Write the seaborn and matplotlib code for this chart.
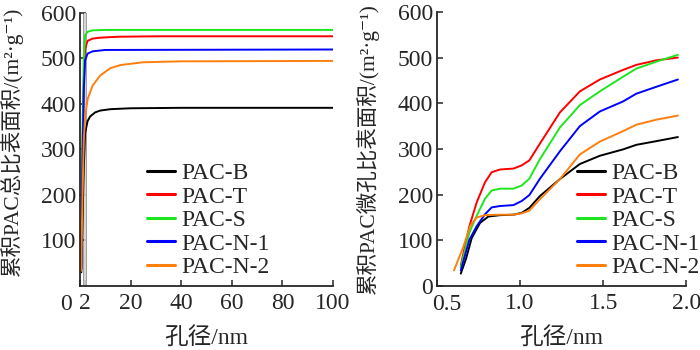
import numpy as np
import pandas as pd
import matplotlib
matplotlib.use("Agg")
import matplotlib.pyplot as plt
import seaborn as sns

samples = ["PAC-B", "PAC-T", "PAC-S", "PAC-N-1", "PAC-N-2"]
colors = ["#000000", "#ff0000", "#1ee61e", "#0000ff", "#ff7f0e"]

# left panel: cumulative total surface area vs pore size (0-100 nm)
total_x = {
    "PAC-B":   [0.5, 1, 1.5, 2, 3, 4, 6, 8, 12, 20, 40, 100],
    "PAC-T":   [0.5, 1, 1.5, 2, 3, 5, 8, 15, 30, 100],
    "PAC-S":   [0.5, 1, 1.5, 2, 3, 5, 10, 100],
    "PAC-N-1": [0.5, 1, 1.5, 2, 3, 5, 10, 100],
    "PAC-N-2": [0.4, 1, 1.5, 2, 3, 5, 8, 12, 16, 25, 40, 100],
}
total_y = {
    "PAC-B":   [30, 150, 260, 335, 362, 372, 381, 385, 388, 390, 391, 391],
    "PAC-T":   [40, 300, 450, 520, 538, 543, 545, 547, 548, 548],
    "PAC-S":   [45, 350, 500, 550, 558, 561, 562, 562],
    "PAC-N-1": [35, 280, 430, 495, 510, 515, 518, 519],
    "PAC-N-2": [33, 200, 320, 370, 410, 440, 462, 478, 485, 491, 493, 494],
}

# right panel: cumulative micropore surface area (0.5-2 nm)
micro_x = {
    "PAC-B":   [0.643, 0.675, 0.709, 0.759, 0.809, 0.88, 0.96, 1.01, 1.056, 1.12, 1.24, 1.36, 1.48, 1.62, 1.70, 1.82, 1.95],
    "PAC-T":   [0.643, 0.695, 0.739, 0.789, 0.829, 0.88, 0.96, 1.01, 1.056, 1.12, 1.24, 1.36, 1.48, 1.62, 1.70, 1.82, 1.95],
    "PAC-S":   [0.643, 0.695, 0.739, 0.789, 0.829, 0.88, 0.96, 1.01, 1.056, 1.12, 1.24, 1.36, 1.48, 1.62, 1.70, 1.82, 1.95],
    "PAC-N-1": [0.643, 0.695, 0.739, 0.789, 0.829, 0.88, 0.96, 1.01, 1.056, 1.12, 1.24, 1.36, 1.48, 1.62, 1.70, 1.82, 1.95],
    "PAC-N-2": [0.602, 0.659, 0.699, 0.739, 0.789, 0.88, 0.96, 1.01, 1.056, 1.12, 1.24, 1.36, 1.48, 1.62, 1.70, 1.82, 1.95],
}
micro_y = {
    "PAC-B":   [27, 60, 105, 138, 152, 155, 156, 160, 171, 197, 234, 267, 285, 299, 309, 317, 326],
    "PAC-T":   [45, 131, 183, 227, 249, 255, 257, 264, 275, 312, 380, 426, 452, 473, 484, 494, 500],
    "PAC-S":   [41, 117, 154, 191, 209, 213, 213, 220, 235, 278, 347, 396, 426, 458, 476, 491, 506],
    "PAC-N-1": [34, 101, 131, 157, 172, 175, 177, 186, 199, 235, 295, 350, 382, 404, 421, 436, 452],
    "PAC-N-2": [34, 86, 131, 150, 155, 156, 156, 159, 165, 190, 234, 288, 316, 339, 353, 364, 373],
}


def to_frame(xs, ys):
    rows = []
    for s in samples:
        for x, y in zip(xs[s], ys[s]):
            rows.append((s, x, y))
    return pd.DataFrame(rows, columns=["sample", "d", "area"])


sns.set_style("ticks")
plt.rcParams["font.family"] = ["Liberation Serif", "Noto Sans CJK SC", "DejaVu Serif"]
plt.rcParams["xtick.direction"] = "in"
plt.rcParams["ytick.direction"] = "in"

fig = plt.figure(figsize=(7, 3.5), dpi=100)
ax1 = fig.add_axes([0.1143, 0.183, 0.3614, 0.781])
ax2 = fig.add_axes([0.6243, 0.183, 0.356, 0.783])
palette = dict(zip(samples, colors))

sns.lineplot(data=to_frame(total_x, total_y), x="d", y="area", hue="sample",
             palette=palette, hue_order=samples, lw=1.4, ax=ax1, estimator=None, sort=False)
sns.lineplot(data=to_frame(micro_x, micro_y), x="d", y="area", hue="sample",
             palette=palette, hue_order=samples, lw=1.4, ax=ax2, estimator=None, sort=False)

# grey marker at 2 nm
ax1.axvline(1.8, color="#8a8a8a", lw=2.6, zorder=0.5)
ax1.axvline(1.8, color="#ececec", lw=1.1, zorder=0.6)

ax1.set_xlim(0, 100)
ax1.set_ylim(0, 600)
ax1.set_xticks([0, 2, 20, 40, 60, 80, 100])
ax1.set_xticklabels(["", "2", "20", "40", "60", "80", "100"])
ax1.set_yticks([100, 200, 300, 400, 500, 600])

ax2.set_xlim(0.5, 2.0)
ax2.set_ylim(0, 600)
ax2.set_xticks([0.5, 1.0, 1.5, 2.0])
ax2.set_xticklabels(["", "1.0", "1.5", "2.0"])
ax2.set_yticks([0, 100, 200, 300, 400, 500, 600])

# first x labels are nudged sideways so they clear the neighbouring label
ax1.annotate("0", xy=(0, 0), xycoords=("data", "axes fraction"), xytext=(-10, -5.5),
             textcoords="offset points", ha="center", va="top", fontsize=17)
ax2.annotate("0.5", xy=(0.5, 0), xycoords=("data", "axes fraction"), xytext=(7, -5.5),
             textcoords="offset points", ha="center", va="top", fontsize=17)

ylabels = ["累积PAC总比表面积/(m²·g⁻¹)", "累积PAC微孔比表面积/(m²·g⁻¹)"]
for ax, yl in zip([ax1, ax2], ylabels):
    sns.despine(ax=ax)
    ax.tick_params(axis="both", labelsize=17, length=4, width=1.1)
    ax.tick_params(axis="x", pad=5)
    ax.tick_params(axis="y", pad=3)
    for sp in ax.spines.values():
        sp.set_linewidth(1.3)
    ax.set_xlabel("孔径/nm", fontsize=17)
    ax.xaxis.set_label_coords(0.5, -0.152)
    ax.set_ylabel(yl, fontsize=15.5)

ax1.yaxis.set_label_coords(-0.225, 0.53)
ax2.yaxis.set_label_coords(-0.235, 0.5)

leg_kw = dict(loc="upper left", frameon=False, fontsize=17, handlelength=1.2,
              labelspacing=0.08, handletextpad=0.25, borderpad=0, borderaxespad=0,
              bbox_transform=fig.transFigure)
ax1.legend(bbox_to_anchor=(0.21, 0.535), **leg_kw)
ax2.legend(bbox_to_anchor=(0.824, 0.535), **leg_kw)
for leg in (ax1.get_legend(), ax2.get_legend()):
    for h in leg.get_lines():
        h.set_linewidth(2.2)

fig.savefig("out.png", dpi=100)
